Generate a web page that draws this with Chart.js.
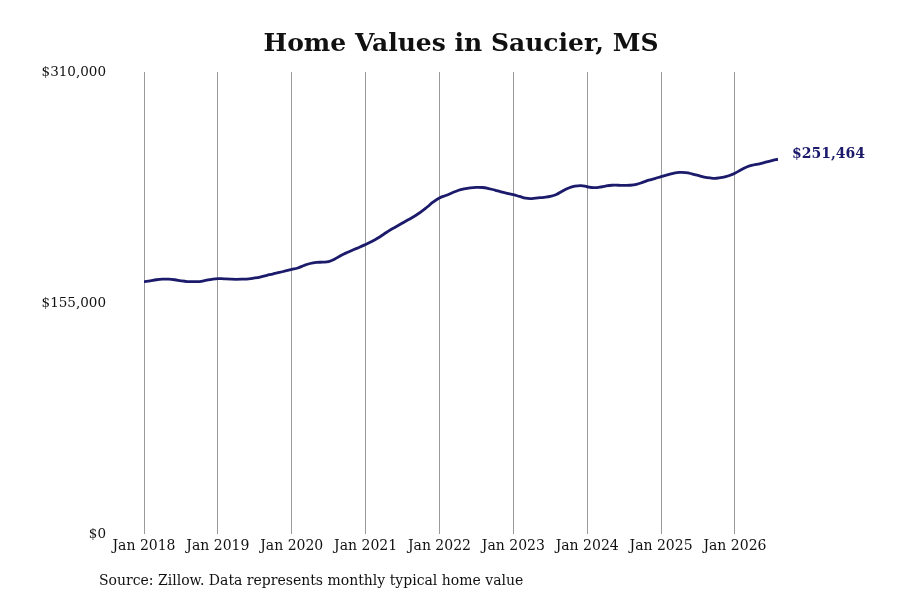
<!DOCTYPE html>
<html>
<head>
<meta charset="utf-8">
<title>Home Values in Saucier, MS</title>
<script src="https://cdn.jsdelivr.net/npm/chart.js@4.4.1/dist/chart.umd.min.js"></script>
<style>
  html, body { margin: 0; padding: 0; background: #fff; }
  #wrap { width: 900px; height: 600px; }
</style>
</head>
<body>
<div id="wrap"><canvas id="homeChart"></canvas></div>
<script>
// monthly typical home value, Jan 2018 .. Aug 2026
const startYear = 2018;
const homeValues = [
  169300, 169900, 170600, 171000, 171000, 170600, 169900, 169400, 169300, 169400, 170100, 170900, // 2018
  171400, 171200, 171000, 170900, 171000, 171200, 171800, 172600, 173600, 174600, 175500, 176500, // 2019
  177500, 178500, 180200, 181500, 182200, 182400, 182800, 184500, 186900, 188900, 190700, 192400, // 2020
  194300, 196300, 198600, 201300, 204000, 206300, 208700, 211000, 213400, 216100, 219400, 222800, // 2021
  225500, 227100, 228800, 230500, 231600, 232300, 232600, 232500, 231800, 230800, 229600, 228600, // 2022
  227700, 226500, 225300, 225100, 225500, 225900, 226500, 227800, 230200, 232200, 233400, 233800, // 2023
  233000, 232400, 232700, 233500, 234000, 234000, 233900, 234000, 234600, 235900, 237400, 238500, // 2024
  239800, 241000, 242000, 242600, 242500, 241700, 240600, 239500, 238900, 238700, 239300, 240400, // 2025
  242100, 244400, 246400, 247600, 248400, 249500, 250600, 251464                                  // 2026
];
const xTickLabels = ['Jan 2018', 'Jan 2019', 'Jan 2020', 'Jan 2021', 'Jan 2022', 'Jan 2023', 'Jan 2024', 'Jan 2025', 'Jan 2026'];
const yTickValues = [0, 155000, 310000];

const serif = '"DejaVu Serif", "Liberation Serif", serif';
const navy = '#1c1a6b';

function money(v) {
  return '$' + Math.round(v).toLocaleString('en-US');
}

// source line under the chart and the value label at the end of the line
const extras = {
  id: 'extras',
  afterDatasetsDraw(chart) {
    const ctx = chart.ctx;
    const meta = chart.getDatasetMeta(0);
    const last = meta.data[meta.data.length - 1];
    ctx.save();
    ctx.fillStyle = navy;
    ctx.font = 'bold 14px ' + serif;
    ctx.textAlign = 'left';
    ctx.textBaseline = 'middle';
    ctx.fillText(money(homeValues[homeValues.length - 1]), last.x + 14, last.y - 5);

    ctx.fillStyle = '#111';
    ctx.font = '14px ' + serif;
    ctx.fillText('Source: Zillow. Data represents monthly typical home value', 99, 581);
    ctx.restore();
  }
};

const ctx = document.getElementById('homeChart').getContext('2d');
const homeChart = new Chart(ctx, {
  type: 'line',
  data: {
    datasets: [{
      label: 'Home value',
      data: homeValues.map((v, i) => ({ x: i, y: v })),
      borderColor: navy,
      borderWidth: 2.8,
      pointRadius: 0,
      tension: 0.4,
      fill: false
    }]
  },
  options: {
    responsive: true,
    maintainAspectRatio: false,
    animation: false,
    layout: { padding: { left: 0, right: 122, top: 0, bottom: 0 } },
    plugins: {
      legend: { display: false },
      tooltip: { enabled: false },
      title: {
        display: true,
        fullSize: false,
        text: 'Home Values in Saucier, MS',
        color: '#111',
        font: { family: serif, size: 25, weight: 'bold', lineHeight: 1.2 },
        padding: { top: 29, bottom: 13 }
      }
    },
    scales: {
      x: {
        type: 'linear',
        min: 0,
        max: homeValues.length - 1,
        afterBuildTicks(scale) {
          scale.ticks = xTickLabels.map((t, i) => ({ value: i * 12 }));
        },
        afterFit(scale) { scale.height = 66; },
        grid: { color: '#9a9a9a', lineWidth: 1, drawTicks: false },
        border: { display: false },
        ticks: {
          color: '#111',
          padding: 4,
          maxRotation: 0,
          autoSkip: false,
          font: { family: serif, size: 14 },
          callback: (v) => xTickLabels[Math.round(v / 12)]
        }
      },
      y: {
        min: 0,
        max: 310000,
        afterBuildTicks(scale) {
          scale.ticks = yTickValues.map(v => ({ value: v }));
        },
        afterFit(scale) { scale.width = 144; },
        grid: { display: false },
        border: { display: false },
        ticks: {
          color: '#111',
          padding: 30,
          font: { family: serif, size: 13.5 },
          callback: (v) => money(v)
        }
      }
    }
  },
  plugins: [extras]
});
</script>
</body>
</html>
